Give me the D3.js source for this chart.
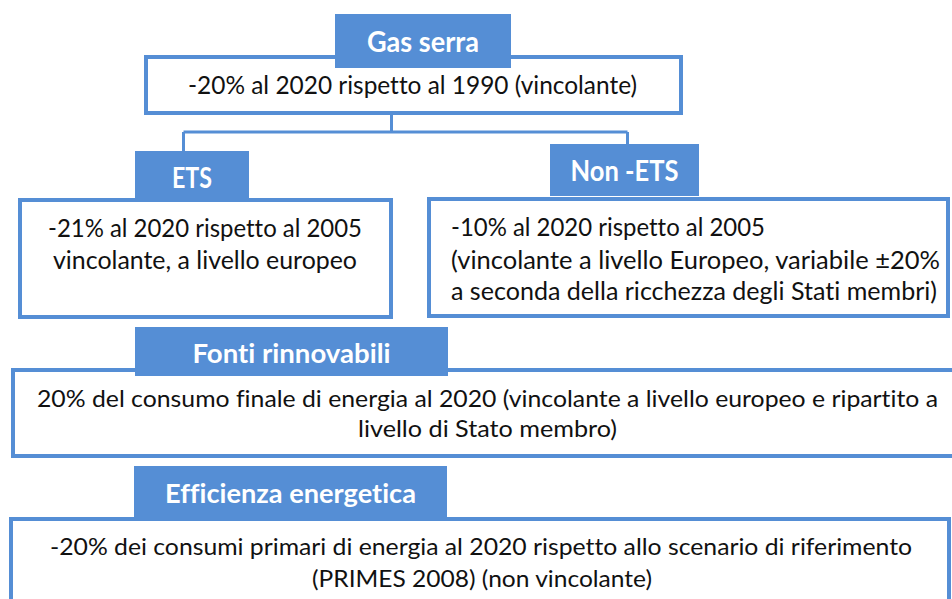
<!DOCTYPE html>
<html>
<head>
<meta charset="utf-8">
<script src="https://cdn.jsdelivr.net/npm/d3@7"></script>
<style>
  html, body { margin: 0; padding: 0; background: #fff; }
  svg { display: block; }
  text { font-family: Lato, "Open Sans", sans-serif; font-variant-ligatures: none; }
</style>
</head>
<body>
<svg width="952" height="599"></svg>
<script>
// Texts of the diagram
const headers = ['Gas serra', 'ETS', 'Non -ETS', 'Fonti rinnovabili', 'Efficienza energetica']

const bodies = [
  ['-20% al 2020 rispetto al 1990 (vincolante)'],
  ['-21% al 2020 rispetto al 2005', 'vincolante, a livello europeo'],
  ['-10% al 2020 rispetto al 2005',
   '(vincolante a livello Europeo, variabile ±20%',
   'a seconda della ricchezza degli Stati membri)'],
  ['20% del consumo finale di energia al 2020 (vincolante a livello europeo e ripartito a',
   'livello di Stato membro)'],
  ['-20% dei consumi primari di energia al 2020 rispetto allo scenario di riferimento',
   '(PRIMES 2008) (non vincolante)'],
]

// Geometry, one entry per block (outer box, header tab, text lines)
const layout = [
  { box: [146, 57, 535, 56], head: [335, 14, 176, 54], headBase: 52, headW: 112, headSize: 29,
    align: 'middle', size: 25.5, lines: [{ x: 412.5, y: 94, w: 449 }] },
  { box: [20, 200, 371, 117], head: [135, 151, 114, 47], headBase: 188, headW: 40, headSize: 28,
    align: 'middle', size: 25.5, lines: [{ x: 205, y: 237, w: 314 }, { x: 205, y: 269, w: 304 }] },
  { box: [429, 199, 519, 117], head: [550, 144, 149, 52], headBase: 181, headW: 108, headSize: 28,
    align: 'start', size: 25.5,
    lines: [{ x: 451, y: 236, w: 314 }, { x: 451, y: 269, w: 489, just: true }, { x: 451, y: 300, w: 486 }] },
  { box: [13, 370, 951, 86], head: [135, 327, 313, 49], headBase: 363, headW: 198, headSize: 26,
    align: 'middle', size: 23, lines: [{ x: 487.5, y: 407, w: 901 }, { x: 487.5, y: 437, w: 259 }] },
  { box: [11, 519, 938, 100], head: [134, 466, 313, 51], headBase: 503, headW: 251, headSize: 26,
    align: 'middle', size: 23, lines: [{ x: 481, y: 555, w: 862 }, { x: 482, y: 587, w: 340 }] },
]

// Tree connector from "Gas serra" to ETS / Non-ETS
const connectors = [
  [[391.5, 113], [391.5, 132]],
  [[183.5, 132], [627.5, 132]],
  [[183.5, 132], [183.5, 151]],
  [[627.5, 132], [627.5, 144]],
]

const blue = '#558ed5'

function main() {
  const svg = d3.select('svg')

  svg.append('g')
    .attr('class', 'links')
    .selectAll('path')
    .data(connectors)
    .join('path')
    .attr('d', d => d3.line()(d))
    .attr('fill', 'none')
    .attr('stroke', blue)
    .attr('stroke-width', 3)

  const blocks = headers.map((h, i) => Object.assign({ title: h, text: bodies[i] }, layout[i]))

  const g = svg.append('g')
    .attr('class', 'blocks')
    .selectAll('g')
    .data(blocks)
    .join('g')

  g.append('rect')
    .attr('x', d => d.box[0])
    .attr('y', d => d.box[1])
    .attr('width', d => d.box[2])
    .attr('height', d => d.box[3])
    .attr('fill', '#fff')
    .attr('stroke', blue)
    .attr('stroke-width', 4)

  g.append('rect')
    .attr('x', d => d.head[0])
    .attr('y', d => d.head[1])
    .attr('width', d => d.head[2])
    .attr('height', d => d.head[3])
    .attr('fill', blue)

  g.append('text')
    .attr('x', d => d.head[0] + d.head[2] / 2)
    .attr('y', d => d.headBase)
    .attr('text-anchor', 'middle')
    .attr('fill', '#fff')
    .attr('font-weight', 700)
    .attr('font-size', d => d.headSize)
    .attr('textLength', d => d.headW)
    .attr('lengthAdjust', 'spacingAndGlyphs')
    .text(d => d.title)

  g.each(function (d) {
    d3.select(this).selectAll('text.line')
      .data(d.text.map((t, i) => Object.assign({ t }, d.lines[i])))
      .join('text')
      .attr('class', 'line')
      .attr('x', l => l.x)
      .attr('y', l => l.y)
      .attr('text-anchor', d.align)
      .attr('fill', '#111')
      .attr('font-size', d.size)
      .attr('textLength', l => l.w)
      .attr('lengthAdjust', l => l.just ? 'spacing' : 'spacingAndGlyphs')
      .text(l => l.t)
  })
}

window.addEventListener('DOMContentLoaded', main)
</script>
</body>
</html>
